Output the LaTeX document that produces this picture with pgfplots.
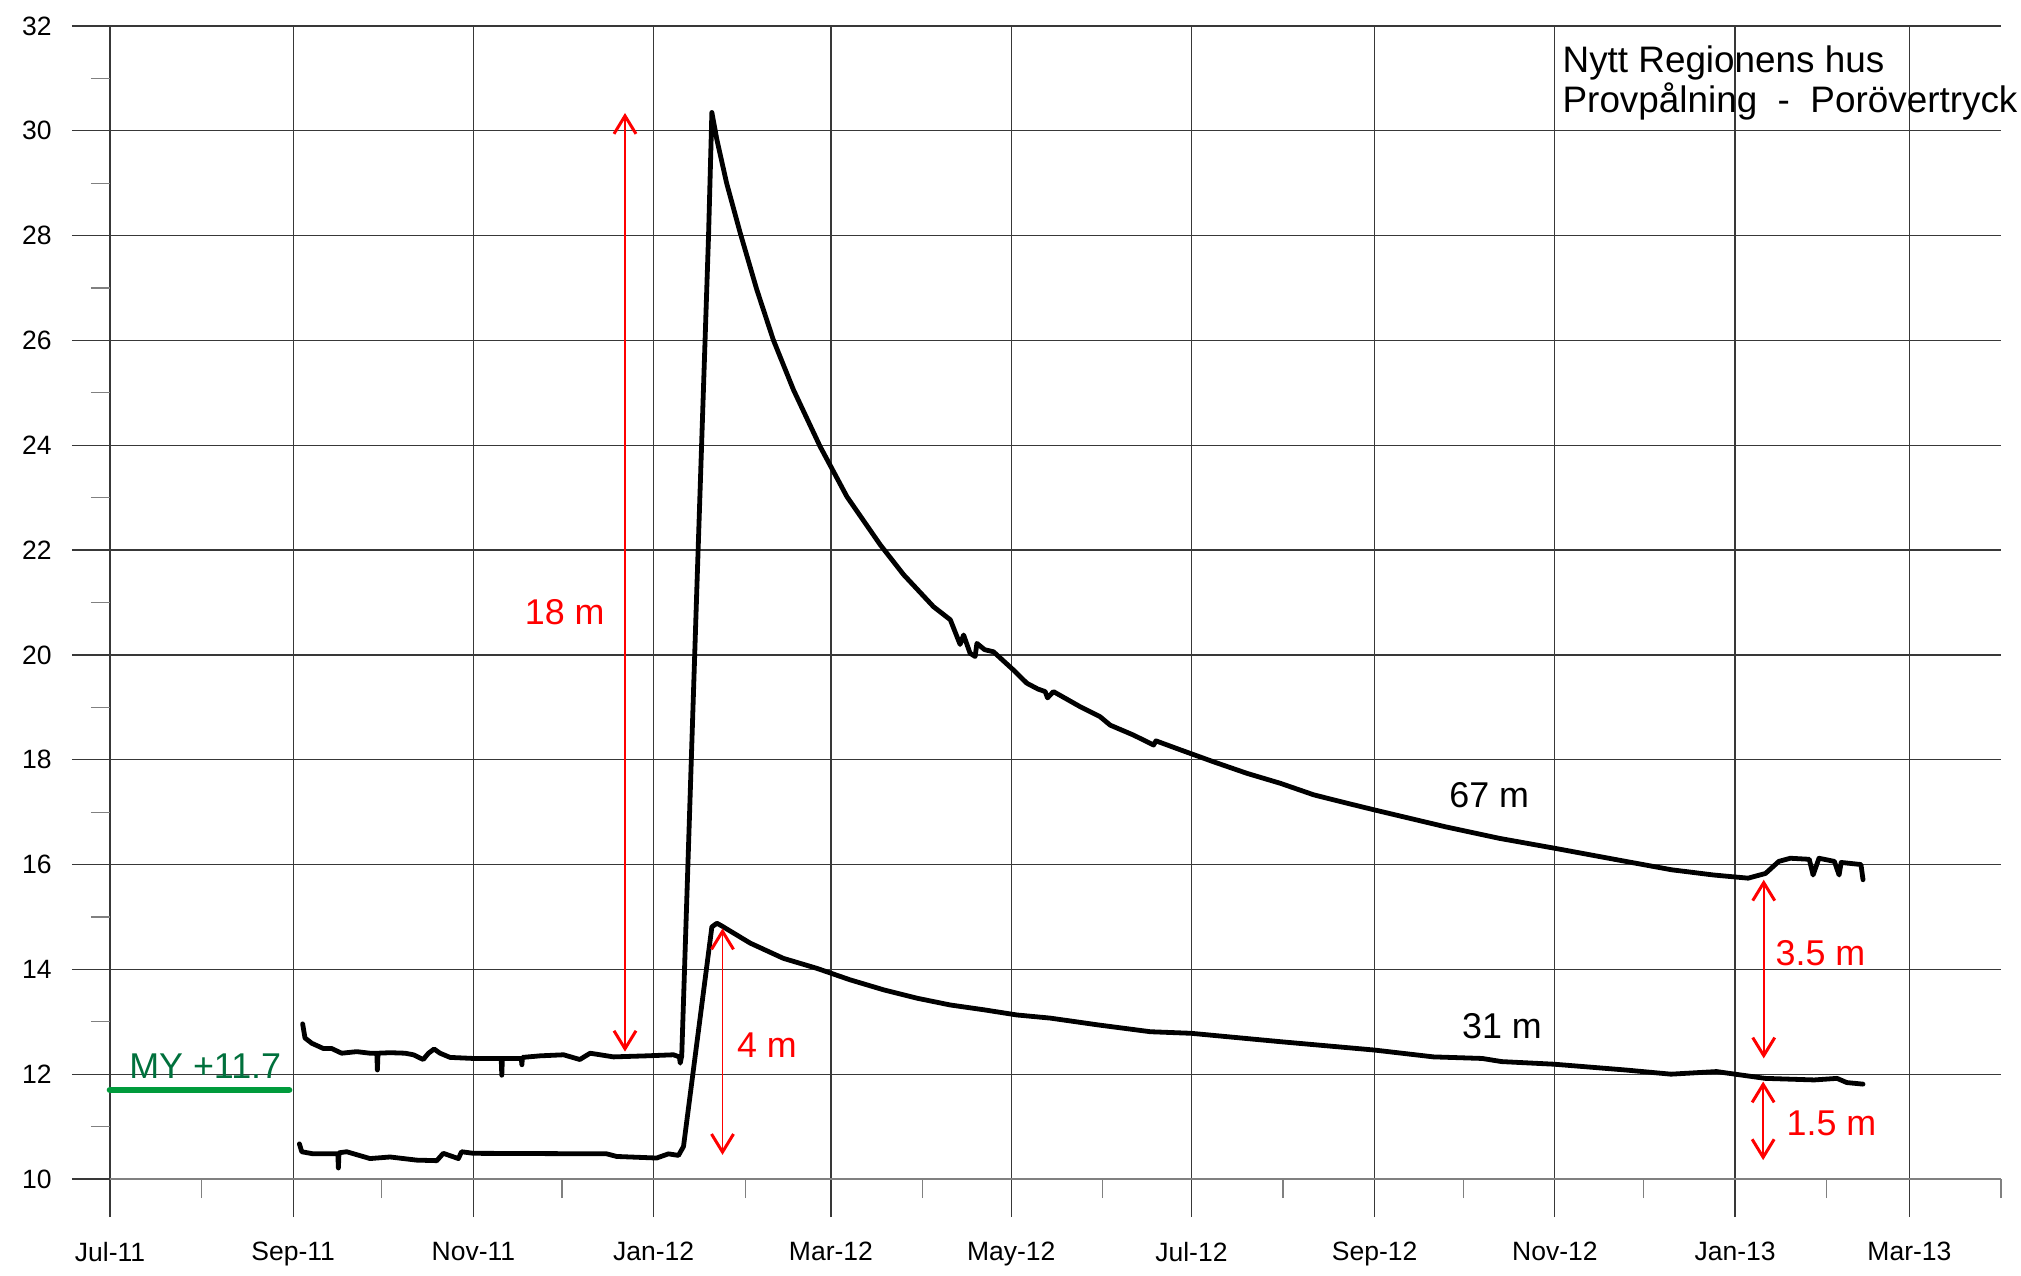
\documentclass[border=0pt]{standalone}
\usepackage{pgfplots}
\pgfplotsset{compat=1.18}
\usepackage{fontspec}
\setmainfont{Liberation Sans}
\usetikzlibrary{arrows.meta}
\definecolor{myline}{RGB}{0,155,60}
\definecolor{mytext}{RGB}{0,112,60}
\pgfplotstableread{
x y
65.2 12.96
66.0 12.69
68.3 12.59
72.2 12.49
75.0 12.49
78.4 12.40
83.5 12.43
88.0 12.40
90.3 12.40
90.5 12.08
90.7 12.40
94.8 12.41
99.9 12.40
102.7 12.37
106.0 12.28
107.8 12.40
109.7 12.48
111.7 12.40
115.1 12.32
123.0 12.30
129.8 12.30
132.4 12.30
132.6 11.98
132.8 12.30
136.5 12.30
139.2 12.30
139.4 12.18
139.6 12.32
145.6 12.35
153.5 12.37
159.0 12.28
162.5 12.40
170.4 12.33
181.7 12.35
190.7 12.37
192.7 12.33
193.0 12.21
193.5 12.35
198.6 21.24
202.6 28.05
203.7 30.35
205.4 29.83
208.7 29.00
213.3 28.05
218.9 26.97
224.5 26.01
231.3 25.06
240.3 23.98
249.4 23.02
260.7 22.10
268.6 21.53
278.7 20.92
284.4 20.67
287.7 20.20
288.9 20.38
291.1 20.03
292.8 19.97
293.4 20.22
296.0 20.10
299.0 20.06
305.8 19.71
310.3 19.46
314.0 19.35
316.5 19.30
317.3 19.18
319.3 19.30
328.4 19.01
335.1 18.82
338.5 18.66
346.4 18.47
353.2 18.28
354.0 18.36
362.2 18.19
373.5 17.96
384.8 17.74
396.1 17.55
407.4 17.33
418.7 17.17
428.1 17.04
452.0 16.72
470.2 16.50
489.0 16.31
513.0 16.06
528.5 15.90
542.8 15.80
554.4 15.74
560.3 15.83
564.8 16.06
568.7 16.12
575.1 16.10
576.4 15.80
578.4 16.12
583.6 16.06
585.2 15.80
585.9 16.04
592.6 16.00
593.3 15.71
}\tabupper
\pgfplotstableread{
x y
64.1 10.67
64.9 10.52
68.8 10.48
74.5 10.48
77.1 10.48
77.3 10.21
77.5 10.50
80.1 10.52
88.0 10.39
94.8 10.42
103.8 10.36
110.6 10.35
112.8 10.49
117.9 10.39
119.0 10.52
123.0 10.49
168.1 10.48
171.5 10.43
185.0 10.40
189.0 10.48
192.4 10.45
194.1 10.62
203.7 14.81
205.4 14.88
207.0 14.83
216.7 14.50
227.9 14.21
239.2 14.02
250.5 13.80
261.8 13.61
273.1 13.45
284.4 13.32
295.6 13.23
306.9 13.13
318.2 13.07
334.4 12.94
352.1 12.81
365.9 12.78
396.1 12.62
428.0 12.46
447.9 12.33
464.4 12.30
471.0 12.24
488.8 12.19
512.9 12.08
528.3 12.00
543.7 12.05
550.0 12.00
560.2 11.92
576.8 11.89
584.5 11.92
587.8 11.84
593.3 11.81
}\tablower
\begin{document}
\begin{tikzpicture}
\begin{axis}[
  scale only axis,
  width=945.5bp, height=576.5bp,
  xmin=0, xmax=640, ymin=10, ymax=32,
  axis x line*=bottom, axis y line*=left,
  x axis line style={draw=black!50, line width=1bp, -},
  y axis line style={draw=none},
  xtick={0,62,123,184,244,305,366,428,489,550,609},
  xticklabels={Jul-11,Sep-11,Nov-11,Jan-12,Mar-12,May-12,Jul-12,Sep-12,Nov-12,Jan-13,Mar-13},
  minor xtick={31,92,153,215,275,336,397,458,519,581,640},
  ytick={10,12,...,32},
  minor ytick={11,13,...,31},
  tick align=outside,
  major tick length=19bp, minor tick length=9.5bp,
  grid=major,
  major grid style={black!78, line width=0.6bp},
  major tick style={black!78, line width=0.6bp},
  minor tick style={black!50, line width=0.6bp},
  ticklabel style={font=\fontsize{13.3}{15}\selectfont, inner sep=0pt},
  /pgf/number format/assume math mode=true,
  yticklabel style={anchor=east, xshift=-10bp},
  xticklabel style={anchor=north, yshift=-12.5bp},
  clip=false,
]
\coordinate (bl) at (rel axis cs:0,0);
\coordinate (tr) at (rel axis cs:1,1);
\addplot[myline, line width=3.3bp, line cap=round] coordinates {(0,11.7) (60.6,11.7)};
\node[mytext, anchor=base west, inner sep=0pt, font=\fontsize{18}{20}\selectfont] at (axis cs:6.4,11.92) {MY +11.7};
\addplot[black, line width=2.4bp, line join=round, line cap=round] table[x=x,y=y] {\tabupper};
\addplot[black, line width=2.4bp, line join=round, line cap=round] table[x=x,y=y] {\tablower};
\addplot[red, line width=0.8bp, {Straight Barb[length=9bp,width=11bp,line width=1.5bp]}-{Straight Barb[length=9bp,width=11bp,line width=1.5bp]}] coordinates {(174.3,12.43) (174.3,30.34)};
\addplot[red, line width=0.8bp, {Straight Barb[length=9bp,width=11bp,line width=1.5bp]}-{Straight Barb[length=9bp,width=11bp,line width=1.5bp]}] coordinates {(207.3,10.46) (207.3,14.78)};
\addplot[red, line width=0.8bp, {Straight Barb[length=9bp,width=11bp,line width=1.5bp]}-{Straight Barb[length=9bp,width=11bp,line width=1.5bp]}] coordinates {(559.7,12.30) (559.7,15.71)};
\addplot[red, line width=0.8bp, {Straight Barb[length=9bp,width=11bp,line width=1.5bp]}-{Straight Barb[length=9bp,width=11bp,line width=1.5bp]}] coordinates {(559.5,10.36) (559.5,11.86)};
\begin{scope}[every node/.style={font=\fontsize{18}{20}\selectfont, inner sep=0pt}]
\node[red] at (axis cs:153.9,20.82) {18 m};
\node[red, anchor=west] at (axis cs:212.1,12.56) {4 m};
\node[red, anchor=west] at (axis cs:563.6,14.31) {3.5 m};
\node[red, anchor=west] at (axis cs:567.3,11.06) {1.5 m};
\node at (axis cs:466.8,17.33) {67 m};
\node at (axis cs:471.1,12.91) {31 m};
\end{scope}
\begin{scope}[every node/.style={font=\fontsize{18.5}{21}\selectfont, inner sep=0pt}]
\node[anchor=base west] at (axis cs:491.5,31.11) {Nytt Regionens hus};
\node[anchor=base west] at (axis cs:491.5,30.34) {Provpålning\ \ -\ \ Porövertryck};
\end{scope}
\end{axis}
\pgfresetboundingbox
\useasboundingbox ([shift={(-55bp,-48.5bp)}]bl) rectangle ([shift={(10bp,13bp)}]tr);
\end{tikzpicture}
\end{document}
